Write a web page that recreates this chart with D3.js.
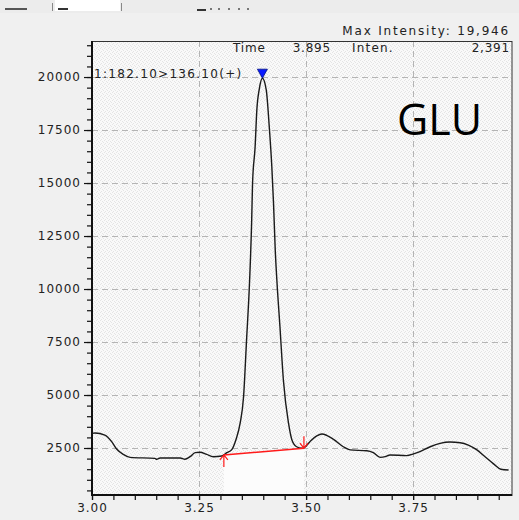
<!DOCTYPE html>
<html>
<head>
<meta charset="utf-8">
<script src="https://cdn.jsdelivr.net/npm/d3@7"></script>
<style>
  body { margin: 0; background: #f0f0f0; }
  svg { display: block; }
  .tick text { font-family: "DejaVu Sans", sans-serif; font-size: 12px; fill: #222; letter-spacing: 1px; }
  .hdr { font-family: "DejaVu Sans", sans-serif; font-size: 12px; fill: #222; letter-spacing: 0.8px; }
</style>
</head>
<body>
<svg width="519" height="520"></svg>
<script>
// chromatogram trace
const times = [3.000, 3.007, 3.030, 3.046, 3.058, 3.073, 3.089, 3.147, 3.151, 3.159,
  3.206, 3.217, 3.229, 3.241, 3.252, 3.268, 3.283, 3.303, 3.315, 3.326,
  3.336, 3.346, 3.354, 3.361, 3.368, 3.373, 3.375, 3.381, 3.385, 3.391,
  3.398, 3.407, 3.414, 3.420, 3.424, 3.428, 3.432, 3.439, 3.447, 3.459,
  3.467, 3.478, 3.490, 3.495, 3.509, 3.525, 3.537, 3.548, 3.564, 3.587,
  3.603, 3.642, 3.657, 3.673, 3.685, 3.696, 3.735, 3.751, 3.766, 3.790,
  3.813, 3.836, 3.860, 3.879, 3.899, 3.918, 3.938, 3.955, 3.973];
const intens = [3190, 3210, 3110, 2800, 2440, 2200, 2060, 2010, 1970, 2030,
  2030, 1970, 2090, 2280, 2300, 2200, 2090, 2120, 2280, 2410,
  2880, 3670, 4920, 7590, 10340, 13250, 14990, 16710, 18440, 19470,
  19946, 19390, 17660, 15770, 14040, 11840, 10340, 8220, 5710, 3670,
  2880, 2560, 2490, 2510, 2800, 3070, 3160, 3100, 2910, 2560,
  2410, 2370, 2280, 2060, 2090, 2170, 2140, 2220, 2330, 2560,
  2720, 2780, 2750, 2640, 2410, 2090, 1750, 1500, 1460];

const xTicks = [3.00, 3.25, 3.50, 3.75];
const yTicks = [2500, 5000, 7500, 10000, 12500, 15000, 17500, 20000];
const xMinor = d3.range(3.0, 3.96, 0.05);
const yMinor = d3.range(500, 21600, 500);

// integration baseline (start, end) and peak marker
const baseTimes = [3.308, 3.495];
const baseInt = [2170, 2490];
const peakTime = 3.398, peakInt = 19946;
const maxIntensity = "19,946";
const cursorTime = "3.895", cursorInt = "2,391";
const channel = "1:182.10>136.10(+)";
const compound = "GLU";

const svg = d3.select("svg");
const x = d3.scaleLinear().domain([3.0, 3.981]).range([92, 512]);
const y = d3.scaleLinear().domain([283, 21700]).range([495, 41]);

// top toolbar remnants
svg.append("rect").attr("x", 0).attr("y", 0).attr("width", 519).attr("height", 13).attr("fill", "#ececec");
svg.append("rect").attr("x", 5).attr("y", 8).attr("width", 22).attr("height", 2).attr("fill", "#555");
svg.append("rect").attr("x", 55).attr("y", 0).attr("width", 65).attr("height", 11).attr("fill", "#fff");
svg.append("rect").attr("x", 58).attr("y", 8).attr("width", 10).attr("height", 2).attr("fill", "#333");
svg.append("rect").attr("x", 121).attr("y", 3).attr("width", 1).attr("height", 8).attr("fill", "#888");
svg.append("rect").attr("x", 52).attr("y", 3).attr("width", 1).attr("height", 8).attr("fill", "#888");
svg.append("rect").attr("x", 197).attr("y", 9).attr("width", 9).attr("height", 2).attr("fill", "#333");
[210, 218, 228, 238, 247].forEach(d => {
  svg.append("rect").attr("x", d).attr("y", 8).attr("width", 2).attr("height", 2).attr("fill", "#777");
});

// stippled plot background
const defs = svg.append("defs");
const pat = defs.append("pattern").attr("id", "stip")
  .attr("width", 4).attr("height", 4).attr("patternUnits", "userSpaceOnUse");
pat.append("rect").attr("width", 4).attr("height", 4).attr("fill", "#f9f9f9");
[[0, 0], [2, 1], [1, 3], [3, 2]].forEach(p => {
  pat.append("rect").attr("x", p[0]).attr("y", p[1]).attr("width", 1).attr("height", 1).attr("fill", "#e4e4e4");
});

const [x0, x1] = x.range();
const [y0, y1] = y.range();
svg.append("rect")
  .attr("x", x0).attr("y", y1)
  .attr("width", x1 - x0).attr("height", y0 - y1)
  .attr("fill", "url(#stip)");

// integrated area under baseline
svg.append("path")
  .attr("d", d3.area()
    .x(d => x(d[0]))
    .y0(y0)
    .y1(d => y(d[1]))([[baseTimes[0], baseInt[0]], [baseTimes[1], baseInt[1]]]))
  .attr("fill", "#fcfcfc");

// dashed grid
const grid = svg.append("g").attr("stroke", "#b4b4b4").attr("stroke-dasharray", "6,4").attr("stroke-width", 1);
grid.selectAll(".gy").data(yTicks).enter().append("line")
  .attr("x1", x0).attr("x2", x1)
  .attr("y1", d => Math.round(y(d)) + 0.5).attr("y2", d => Math.round(y(d)) + 0.5);
grid.selectAll(".gx").data(xTicks.slice(1)).enter().append("line")
  .attr("y1", y1).attr("y2", y0)
  .attr("x1", d => Math.round(x(d)) + 0.5).attr("x2", d => Math.round(x(d)) + 0.5);

// frame
svg.append("rect")
  .attr("x", x0).attr("y", y1 + 0.5)
  .attr("width", x1 - x0).attr("height", y0 - y1)
  .attr("fill", "none").attr("stroke", "#333").attr("stroke-width", 1);

// axes
const yMin = svg.append("g").attr("transform", `translate(${x0},0)`)
  .call(d3.axisLeft(y).tickValues(yMinor).tickSize(5).tickFormat(""));
const yAx = svg.append("g").attr("transform", `translate(${x0},0)`)
  .call(d3.axisLeft(y).tickValues(yTicks).tickSize(8).tickPadding(3).tickFormat(d3.format("d")));
const xMin = svg.append("g").attr("transform", `translate(0,${y0})`)
  .call(d3.axisBottom(x).tickValues(xMinor).tickSize(5).tickFormat(""));
const xAx = svg.append("g").attr("transform", `translate(0,${y0})`)
  .call(d3.axisBottom(x).tickValues(xTicks).tickSize(5).tickPadding(3).tickFormat(d3.format(".2f")));
[yMin, yAx, xMin, xAx].forEach(g => {
  g.select(".domain").remove();
  g.selectAll(".tick line").attr("stroke", "#111").attr("stroke-width", 1.2);
});
svg.append("line").attr("x1", x0).attr("x2", x0).attr("y1", y1).attr("y2", y0 + 1)
  .attr("stroke", "#111").attr("stroke-width", 2);
svg.append("line").attr("x1", x0).attr("x2", x1).attr("y1", y0).attr("y2", y0)
  .attr("stroke", "#111").attr("stroke-width", 2);

// header texts
svg.append("text").attr("class", "hdr").attr("x", 510).attr("y", 35)
  .attr("text-anchor", "end").style("letter-spacing", "1.8px").text("Max Intensity: " + maxIntensity);
svg.append("text").attr("class", "hdr").attr("x", 233).attr("y", 52).text("Time");
svg.append("text").attr("class", "hdr").attr("x", 331).attr("y", 52).attr("text-anchor", "end").text(cursorTime);
svg.append("text").attr("class", "hdr").attr("x", 352).attr("y", 52).style("letter-spacing", "1.2px").text("Inten.");
svg.append("text").attr("class", "hdr").attr("x", 510).attr("y", 52).attr("text-anchor", "end").text(cursorInt);
svg.append("text").attr("class", "hdr").attr("x", 94).attr("y", 78).style("letter-spacing", "1.3px").text(channel);
svg.append("text").attr("x", 397).attr("y", 135)
  .attr("font-family", "'Open Sans', sans-serif").attr("font-size", 43).attr("fill", "#000")
  .text(compound);

// trace
const pts = times.map((t, i) => [t, intens[i]]);
svg.append("path")
  .datum(pts)
  .attr("fill", "none")
  .attr("stroke", "#1a1a1a")
  .attr("stroke-width", 1.4)
  .attr("d", d3.line().x(d => x(d[0])).y(d => y(d[1])).curve(d3.curveMonotoneX));

// baseline and its arrows
svg.append("line")
  .attr("x1", x(baseTimes[0])).attr("y1", y(baseInt[0]))
  .attr("x2", x(baseTimes[1])).attr("y2", y(baseInt[1]))
  .attr("stroke", "#ff1a1a").attr("stroke-width", 1.6);
const red = svg.append("g").attr("stroke", "#ff1a1a").attr("stroke-width", 1.2).attr("fill", "none");
const sx = x(baseTimes[0]), sy = y(baseInt[0]);
red.append("path").attr("d", `M${sx},${sy} V${sy + 12} M${sx - 4},${sy + 5} L${sx},${sy} L${sx + 4},${sy + 5}`);
const ex = x(baseTimes[1]), ey = y(baseInt[1]);
red.append("path").attr("d", `M${ex},${ey} V${ey - 12} M${ex - 4},${ey - 5} L${ex},${ey} L${ex + 4},${ey - 5}`);

// peak marker
const px = x(peakTime), py = y(peakInt);
svg.append("path")
  .attr("d", `M${px - 5},${py - 9} L${px + 5},${py - 9} L${px},${py} Z`)
  .attr("fill", "#0a1aff").attr("stroke", "#001080").attr("stroke-width", 0.8);
</script>
</body>
</html>
